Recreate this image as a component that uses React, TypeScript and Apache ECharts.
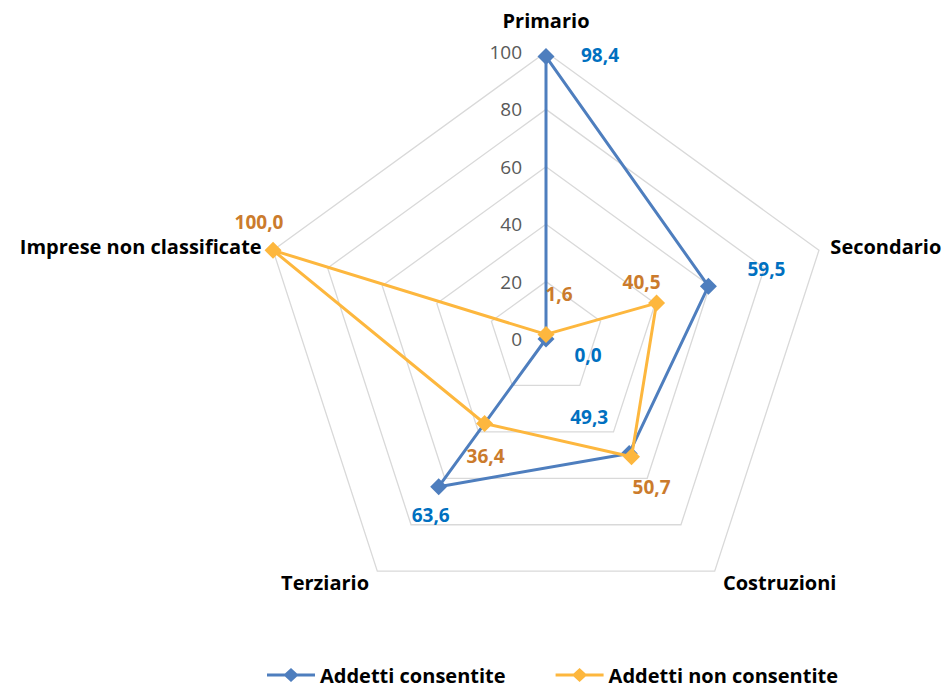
import React, { useEffect, useRef } from "react";
import * as echarts from "echarts";

// Categories (radar indicators) and series values
const indicators = ["Primario", "Secondario", "Costruzioni", "Terziario", "Imprese non classificate"];
const consentite = [98.4, 59.5, 49.3, 63.6, 0.0];
const nonConsentite = [1.6, 40.5, 50.7, 36.4, 100.0];
const seriesNames = ["Addetti consentite", "Addetti non consentite"];

// ECharts lays radar axes out counter-clockwise; this order puts the
// categories clockwise starting from the top.
const drawOrder = [0, 4, 3, 2, 1];

// Label placement (offset of each value label from its point), per category
const offsetsConsentite: [number, number][] = [[54, -2], [58, -17], [-40, -36], [-8, 28], [42, 16]];
const offsetsNonConsentite: [number, number][] = [[13, -40], [-15, -21], [20, 30], [1, 32], [-14, -28]];
const nameGaps = [22, 12, 14, 14, 12];

const FONT = "Open Sans";
const BLUE = "#4E7EBE";
const ORANGE = "#FDB73E";
const BLUE_TEXT = "#0070C0";
const ORANGE_TEXT = "#CB7B2C";

const fmt = (v: number) => v.toFixed(1).replace(".", ",");
const ordered = <T,>(arr: T[]) => drawOrder.map((i) => arr[i]);

// Legend glyph: a line with a diamond in the middle
const LEGEND_ICON =
  "path://M0,5.5 L18,5.5 L24,0 L30,5.5 L48,5.5 L48,8.5 L30,8.5 L24,14 L18,8.5 L0,8.5 Z";

function labelSeries(values: number[], offsets: [number, number][], color: string) {
  const vals = ordered(values);
  const offs = ordered(offsets);
  return {
    type: "radar",
    name: "",
    silent: true,
    symbol: "circle",
    symbolSize: 1,
    itemStyle: { color: "rgba(0,0,0,0)" },
    lineStyle: { width: 0, opacity: 0 },
    z: 5,
    data: vals.map((_, i) => ({
      value: vals,
      label: {
        show: true,
        position: "inside",
        offset: offs[i],
        color,
        fontFamily: FONT,
        fontWeight: "bold",
        fontSize: 19,
        formatter: (p: any) => (p.value === vals[p.dataIndex] ? fmt(p.value) : ""),
      },
    })),
  };
}

export default function App() {
  const ref = useRef<HTMLDivElement>(null);

  useEffect(() => {
    if (!ref.current) return;
    const chart = echarts.init(ref.current, undefined, { renderer: "svg" });

    const names = ordered(indicators);
    const gaps = ordered(nameGaps);

    chart.setOption({
      animation: false,
      backgroundColor: "#ffffff",
      legend: {
        data: seriesNames.map((n, i) => ({
          name: n,
          icon: LEGEND_ICON,
          itemStyle: { color: i === 0 ? BLUE : ORANGE },
        })),
        bottom: 0,
        left: 262,
        itemWidth: 48,
        itemHeight: 14,
        itemGap: 50,
        textStyle: { color: "#000", fontFamily: FONT, fontWeight: "bold", fontSize: 20 },
        selectedMode: false,
      },
      radar: {
        center: [546, 339],
        radius: 287,
        shape: "polygon",
        splitNumber: 5,
        startAngle: 90,
        indicator: names.map((name, i) => ({
          name,
          min: 0,
          max: 100,
          nameGap: gaps[i],
          axisLabel: { show: i === 0 },
        })),
        axisName: {
          color: "#000",
          fontFamily: FONT,
          fontWeight: "bold",
          fontSize: 20,
        },
        axisLine: { show: false },
        axisTick: { show: false },
        axisLabel: {
          show: false,
          color: "#595959",
          fontFamily: FONT,
          fontSize: 19,
          margin: 24,
        },
        splitLine: { lineStyle: { color: "#D9D9D9", width: 1.3 } },
        splitArea: { show: false },
      },
      series: [
        {
          type: "radar",
          name: seriesNames[0],
          symbol: "diamond",
          symbolSize: 17,
          itemStyle: { color: BLUE },
          lineStyle: { color: BLUE, width: 3 },
          z: 2,
          data: [{ name: seriesNames[0], value: ordered(consentite) }],
        },
        {
          type: "radar",
          name: seriesNames[1],
          symbol: "diamond",
          symbolSize: 17,
          itemStyle: { color: ORANGE },
          lineStyle: { color: ORANGE, width: 3 },
          z: 3,
          data: [{ name: seriesNames[1], value: ordered(nonConsentite) }],
        },
        labelSeries(consentite, offsetsConsentite, BLUE_TEXT),
        labelSeries(nonConsentite, offsetsNonConsentite, ORANGE_TEXT),
      ],
    });

    return () => chart.dispose();
  }, []);

  return (
    <div
      ref={ref}
      style={{ position: "fixed", left: 0, top: 0, width: 948, height: 690, background: "#fff" }}
    />
  );
}
